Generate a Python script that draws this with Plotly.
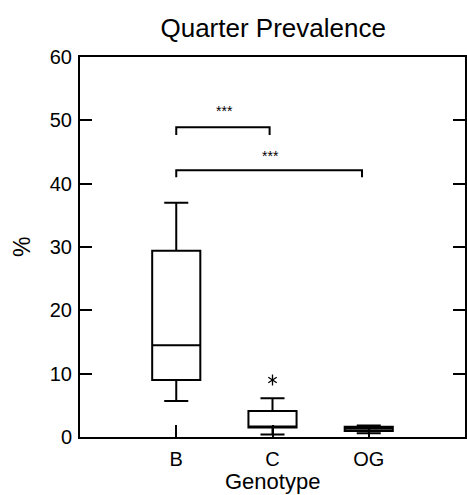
import plotly.graph_objects as go

categories = ["B", "C", "OG"]
positions = [1, 2, 3]
q1 = [9.0, 1.5, 0.95]
median = [14.5, 1.6, 1.3]
q3 = [29.4, 4.1, 1.6]
lower_whisker = [5.7, 0.4, 0.6]
upper_whisker = [37.0, 6.1, 1.8]

outlier_x = [2]
outlier_y = [9.0]

# significance brackets: (x start, x end, bar y, leg bottom y, label)
bracket_x0 = [1, 1]
bracket_x1 = [1.97, 2.93]
bracket_top = [48.9, 42.1]
bracket_bottom = [47.7, 41.0]
bracket_label = ["***", "***"]
bracket_label_x = [1.5, 1.98]
bracket_label_y = [51.4, 44.4]

y_ticks = [0, 10, 20, 30, 40, 50, 60]

fig = go.Figure()
for i, c in enumerate(categories):
    fig.add_trace(go.Box(
        x=[positions[i]], q1=[q1[i]], median=[median[i]], q3=[q3[i]],
        lowerfence=[lower_whisker[i]], upperfence=[upper_whisker[i]],
        width=0.5, whiskerwidth=0.5, fillcolor="white",
        line=dict(color="black", width=2), boxpoints=False,
        showlegend=False, hoverinfo="skip"))

for sym in ["y-up-open", "y-down-open"]:
    fig.add_trace(go.Scatter(
        x=outlier_x, y=outlier_y, mode="markers",
        marker=dict(symbol=sym, size=7, color="black",
                    line=dict(color="black", width=1.3)),
        showlegend=False, hoverinfo="skip"))

for i in range(len(bracket_x0)):
    fig.add_trace(go.Scatter(
        x=[bracket_x0[i], bracket_x0[i], bracket_x1[i], bracket_x1[i]],
        y=[bracket_bottom[i], bracket_top[i], bracket_top[i], bracket_bottom[i]],
        mode="lines", line=dict(color="black", width=2),
        showlegend=False, hoverinfo="skip"))
    fig.add_annotation(x=bracket_label_x[i], y=bracket_label_y[i],
                       text=bracket_label[i], showarrow=False,
                       font=dict(size=14, color="black"))

font_family = "Liberation Sans, Arial, sans-serif"

fig.add_annotation(text="Genotype", xref="paper", yref="paper", x=0.5, y=0,
                   xanchor="center", yanchor="middle", yshift=-44,
                   showarrow=False, font=dict(size=22, color="black"))
fig.add_annotation(text="%", xref="paper", yref="paper", x=0, y=0.5,
                   xanchor="center", yanchor="middle", xshift=-58,
                   textangle=-90, showarrow=False,
                   font=dict(size=23, color="black"))

fig.update_layout(
    width=467, height=495,
    margin=dict(l=80, r=0, t=57, b=58),
    plot_bgcolor="white", paper_bgcolor="white",
    font=dict(family=font_family, color="black", size=20),
    title=dict(text="Quarter Prevalence", x=0.585, xanchor="center",
               y=1 - 28 / 495, yanchor="middle",
               font=dict(size=26, family=font_family, color="black")),
    xaxis=dict(range=[0, 4], tickvals=positions, ticktext=categories,
               showline=True, mirror=True, linecolor="black", linewidth=2,
               ticks="inside", ticklen=12, tickwidth=2, tickcolor="black",
               ticklabelstandoff=3,
               showgrid=False, zeroline=False),
    yaxis=dict(range=[0, 60], tickvals=y_ticks,
               showline=True, mirror="ticks", linecolor="black", linewidth=2,
               ticks="inside", ticklen=12, tickwidth=2, tickcolor="black",
               ticklabelstandoff=2,
               showgrid=False, zeroline=False),
)

fig.write_html("out.html", config={"displayModeBar": False},
               post_script="document.body.style.margin='0';document.body.style.overflow='hidden';")
